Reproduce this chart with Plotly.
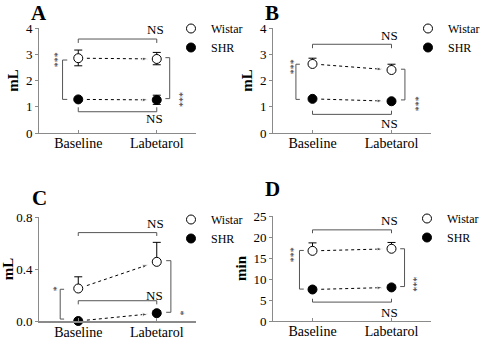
import plotly.graph_objects as go

# ---------------- data ----------------
categories = ["Baseline", "Labetarol"]
panel_letters = ["A", "B", "C", "D"]
y_titles = ["mL", "mL", "mL", "min"]

A_wistar = [2.85, 2.82]
A_wistar_err_up = [0.31, 0.25]
A_wistar_err_dn = [0.29, 0.22]
A_shr = [1.28, 1.26]
A_shr_err_up = [0.05, 0.18]
A_shr_err_dn = [0.05, 0.17]

B_wistar = [2.63, 2.40]
B_wistar_err_up = [0.22, 0.22]
B_wistar_err_dn = [0.0, 0.0]
B_shr = [1.30, 1.21]
B_shr_err_up = [0.05, 0.05]
B_shr_err_dn = [0.0, 0.0]

C_wistar = [0.25, 0.455]
C_wistar_err_up = [0.09, 0.15]
C_wistar_err_dn = [0.0, 0.0]
C_shr = [0.0, 0.06]
C_shr_err_up = [0.0, 0.02]
C_shr_err_dn = [0.0, 0.0]

D_wistar = [16.7, 17.2]
D_wistar_err_up = [1.9, 1.5]
D_wistar_err_dn = [0.0, 0.0]
D_shr = [7.5, 8.0]
D_shr_err_up = [0.4, 0.5]
D_shr_err_dn = [0.0, 0.0]

y_ranges = [[0, 4], [0, 4], [0, 0.8], [0, 25]]
y_tickvals = [[0, 1, 2, 3, 4], [0, 1, 2, 3, 4], [0, 0.4, 0.8], [0, 5, 10, 15, 20, 25]]
y_ticktext = [["0", "1", "2", "3", "4"], ["0", "1", "2", "3", "4"],
              ["0.0", "0.4", "0.8"], ["0", "5", "10", "15", "20", "25"]]

# significance labels
sig_between = [["***", "***"], ["***", "***"], ["*", "*"], ["***", "***"]]

# ---------------- layout geometry (pixels) ----------------
W, H = 488, 339
x_doms_px = [(39, 196), (273, 431), (39, 196), (273, 431)]
y_doms_px = [(28, 133), (28, 133), (217, 321), (216, 321)]

top_br = [(3.58, -0.15, 3.95), (3.38, -0.15, 3.73), (0.68, -0.026, 0.75), (21.7, -0.8, 23.9)]
bot_br = [(0.81, 0.17, 0.57), (0.71, 0.14, 0.37), (0.156, -0.028, 0.198), (4.5, 0.8, 2.0)]
left_br = [(-0.20, 0.06, 2.78, 1.28, -0.30, 2.78), (-0.21, 0.05, 2.62, 1.28, -0.28, 2.53),
           (-0.23, 0.05, 0.244, 0.015, -0.31, 0.244), (-0.165, 0.055, 16.8, 7.6, -0.28, 15.8)]
right_br = [(1.165, -0.055, 2.87, 1.31, 1.29, 1.28), (1.17, -0.05, 2.43, 1.26, 1.31, 1.10),
            (1.18, -0.06, 0.464, 0.067, 1.30, 0.064), (1.165, -0.055, 17.2, 8.2, 1.29, 8.8)]
legend_px = [(171, 14), (408, 14), (171, 205), (407, 204)]
letter_px = [(39, 13), (272, 13), (39, 198), (272, 189)]

wistar = [A_wistar, B_wistar, C_wistar, D_wistar]
wistar_up = [A_wistar_err_up, B_wistar_err_up, C_wistar_err_up, D_wistar_err_up]
wistar_dn = [A_wistar_err_dn, B_wistar_err_dn, C_wistar_err_dn, D_wistar_err_dn]
shr = [A_shr, B_shr, C_shr, D_shr]
shr_up = [A_shr_err_up, B_shr_err_up, C_shr_err_up, D_shr_err_up]
shr_dn = [A_shr_err_dn, B_shr_err_dn, C_shr_err_dn, D_shr_err_dn]

FONT = "Liberation Serif, Times New Roman, serif"
AX_COL = "#8a8a8a"
BR_COL = "#555555"

fig = go.Figure()
layout = dict(width=W, height=H, margin=dict(l=0, r=0, t=0, b=0, autoexpand=False),
              paper_bgcolor="white", plot_bgcolor="white",
              font=dict(family=FONT, size=13, color="black"), autosize=False)
shapes, annotations = [], []

for i in range(4):
    n = "" if i == 0 else str(i + 1)
    xa, ya = "x" + n, "y" + n
    lg = "legend" + n
    x0p, x1p = x_doms_px[i]
    y0p, y1p = y_doms_px[i]
    layout["xaxis" + n] = dict(
        domain=[x0p / W, x1p / W], range=[-0.5, 1.5], anchor=ya, automargin=False,
        tickvals=[0, 1], ticktext=categories, showline=True, linecolor=AX_COL,
        linewidth=2 if i == 2 else 1, ticks="inside", ticklen=3, tickcolor=AX_COL,
        showgrid=False, zeroline=False, tickfont=dict(size=14), ticklabelstandoff=-3,
        fixedrange=True)
    layout["yaxis" + n] = dict(
        domain=[1 - y1p / H, 1 - y0p / H], range=y_ranges[i], anchor=xa, automargin=False,
        tickvals=y_tickvals[i], ticktext=y_ticktext[i], showline=True, linecolor=AX_COL,
        ticks="outside", ticklen=3, tickcolor=AX_COL, showgrid=False, zeroline=False,
        tickfont=dict(size=13),
        title=dict(text="<b>" + y_titles[i] + "</b>", font=dict(size=15), standoff=3))
    lx, ly = legend_px[i]
    layout[lg] = dict(x=lx / W, y=1 - ly / H, xanchor="left", yanchor="top",
                      bgcolor="rgba(0,0,0,0)", font=dict(size=12), tracegroupgap=0,
                      itemclick=False)

    xs = [0, 1]
    fig.add_trace(go.Scatter(
        x=xs, y=wistar[i], mode="markers", name="Wistar", xaxis=xa, yaxis=ya, legend=lg,
        marker=dict(symbol="circle", size=9, color="white", line=dict(color="black", width=1)),
        error_y=dict(type="data", symmetric=False, array=wistar_up[i], arrayminus=wistar_dn[i],
                     color="black", thickness=1, width=4),
        cliponaxis=False))
    fig.add_trace(go.Scatter(
        x=xs, y=shr[i], mode="markers", name="SHR", xaxis=xa, yaxis=ya, legend=lg,
        marker=dict(symbol="circle", size=9, color="black", line=dict(color="black", width=1)),
        error_y=dict(type="data", symmetric=False, array=shr_up[i], arrayminus=shr_dn[i],
                     color="black", thickness=1, width=4),
        cliponaxis=False))

    # dotted arrows from baseline to labetarol
    for series in (wistar[i], shr[i]):
        t0, t1 = 0.11, 0.89
        ya0 = series[0] + t0 * (series[1] - series[0])
        ya1 = series[0] + t1 * (series[1] - series[0])
        fig.add_trace(go.Scatter(
            x=[t0, t1], y=[ya0, ya1], mode="lines+markers", xaxis=xa, yaxis=ya,
            showlegend=False, hoverinfo="skip", cliponaxis=False,
            line=dict(color="black", width=1, dash="dot"),
            marker=dict(symbol="arrow", size=[0, 6], angleref="previous", color="black")))

    # top bracket
    yb, tk, yns = top_br[i]
    shapes.append(dict(type="path", xref=xa, yref=ya,
                       path=f"M 0,{yb + tk} L 0,{yb} L 1,{yb} L 1,{yb + tk}",
                       line=dict(color=BR_COL, width=1)))
    annotations.append(dict(x=0.98, y=yns, xref=xa, yref=ya, text="NS", showarrow=False,
                            font=dict(size=13)))
    # bottom bracket
    yb, tk, yns = bot_br[i]
    shapes.append(dict(type="path", xref=xa, yref=ya,
                       path=f"M 0,{yb + tk} L 0,{yb} L 1,{yb} L 1,{yb + tk}",
                       line=dict(color=BR_COL, width=1)))
    annotations.append(dict(x=0.97, y=yns, xref=xa, yref=ya, text="NS", showarrow=False,
                            font=dict(size=13)))
    # left & right vertical brackets with stars
    for br, sig in ((left_br[i], sig_between[i][0]), (right_br[i], sig_between[i][1])):
        bx, tk, yt, ybm, sx, sy = br
        shapes.append(dict(type="path", xref=xa, yref=ya,
                           path=f"M {bx + tk},{yt} L {bx},{yt} L {bx},{ybm} L {bx + tk},{ybm}",
                           line=dict(color=BR_COL, width=1)))
        annotations.append(dict(x=sx, y=sy, xref=xa, yref=ya, text=sig, showarrow=False,
                                textangle=90, font=dict(size=10, color="#333333")))

    # panel letter
    lpx, lpy = letter_px[i]
    annotations.append(dict(x=lpx / W, y=1 - lpy / H, xref="paper", yref="paper",
                            text="<b>" + panel_letters[i] + "</b>", showarrow=False,
                            xanchor="center", yanchor="middle", font=dict(size=21)))

layout["shapes"] = shapes
layout["annotations"] = annotations
fig.update_layout(**layout)
fig.write_html("out.html", config={"displayModeBar": False},
               post_script="document.body.style.margin='0';document.body.style.overflow='hidden';")
